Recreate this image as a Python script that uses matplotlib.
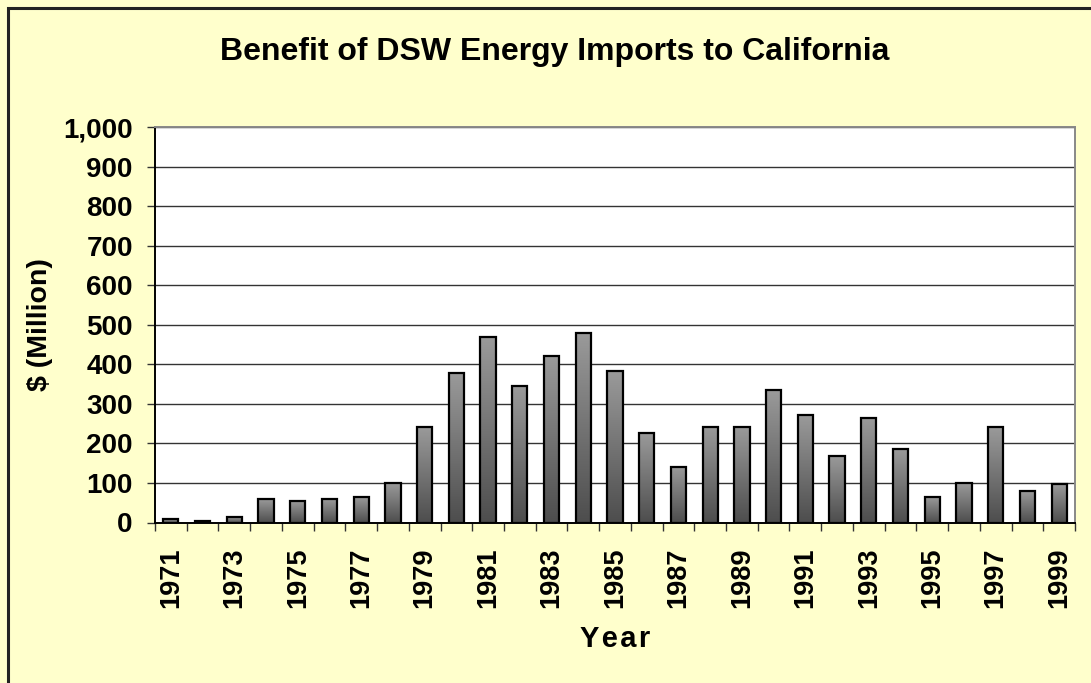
import matplotlib
matplotlib.use('Agg')
import matplotlib.pyplot as plt
import numpy as np
from matplotlib.colors import LinearSegmentedColormap
from matplotlib.patches import Rectangle
from matplotlib.ticker import FuncFormatter, MultipleLocator

years = list(range(1971, 2000))
benefit = [10, 5, 15, 60, 55, 60, 65, 100, 242, 379, 470, 344, 420, 480, 384,
           227, 140, 242, 242, 334, 272, 167, 263, 187, 65, 100, 242, 80, 97]

plt.rcParams['font.family'] = ['Liberation Sans', 'DejaVu Sans']
plt.rcParams['font.weight'] = 'bold'

bg = '#FFFFCC'
fig = plt.figure(figsize=(10.91, 6.83), dpi=100, facecolor=bg)
ax = fig.add_axes([155 / 1091, 1 - 522.5 / 683, 920 / 1091, 395.5 / 683])
ax.set_facecolor('white')

# outer frame (left and top edges visible in the reference)
fig.add_artist(Rectangle((8 / 1091, -0.05), 1.2, (683 - 8) / 683 + 0.05,
                         transform=fig.transFigure, fill=False,
                         edgecolor='#222222', linewidth=2.2))

x = np.arange(len(years))
width = 0.48
cmap = LinearSegmentedColormap.from_list('bar', ['#4d4d4d', '#9a9a9a'])
grad = np.linspace(0, 1, 256).reshape(-1, 1)
for xi, h in zip(x, benefit):
    ax.imshow(grad, extent=(xi - width / 2, xi + width / 2, 0, h), origin='lower',
              cmap=cmap, aspect='auto', zorder=2, interpolation='bicubic')
ax.bar(x, benefit, width, facecolor='none', edgecolor='black', linewidth=1.6, zorder=3)

ax.set_xlim(-0.5, len(years) - 0.5)
ax.set_ylim(0, 1000)
ax.yaxis.set_major_locator(MultipleLocator(100))
ax.yaxis.set_major_formatter(FuncFormatter(lambda v, p: '{:,.0f}'.format(v)))
ax.grid(axis='y', color='#333333', linewidth=1.0, zorder=1)
ax.set_axisbelow(True)

ax.set_xticks(x[::2])
ax.set_xticklabels([str(y) for y in years[::2]], rotation=90)
ax.set_xticks(np.arange(-0.5, len(years)), minor=True)
ax.tick_params(axis='x', which='major', length=0, pad=18, labelsize=19.5)
ax.tick_params(axis='x', which='minor', length=6, width=1, color='#333333')
ax.tick_params(axis='y', length=6, width=1, color='#333333', labelsize=20, pad=10)

for side in ['left', 'bottom']:
    ax.spines[side].set_color('black')
    ax.spines[side].set_linewidth(1.4)
for side in ['top', 'right']:
    ax.spines[side].set_color('#888888')
    ax.spines[side].set_linewidth(1.4)

fig.text(555 / 1091, 1 - 52 / 683, 'Benefit of DSW Energy Imports to California',
         fontsize=23, fontweight='bold', ha='center', va='center')
ax.set_ylabel('$ (Million)', fontsize=20.5, fontweight='bold', labelpad=7)
ax.set_xlabel('Y e a r'.replace(' ', '\u200a'), fontsize=21, fontweight='bold', labelpad=12)

fig.savefig('out.png', dpi=100, facecolor=bg)
